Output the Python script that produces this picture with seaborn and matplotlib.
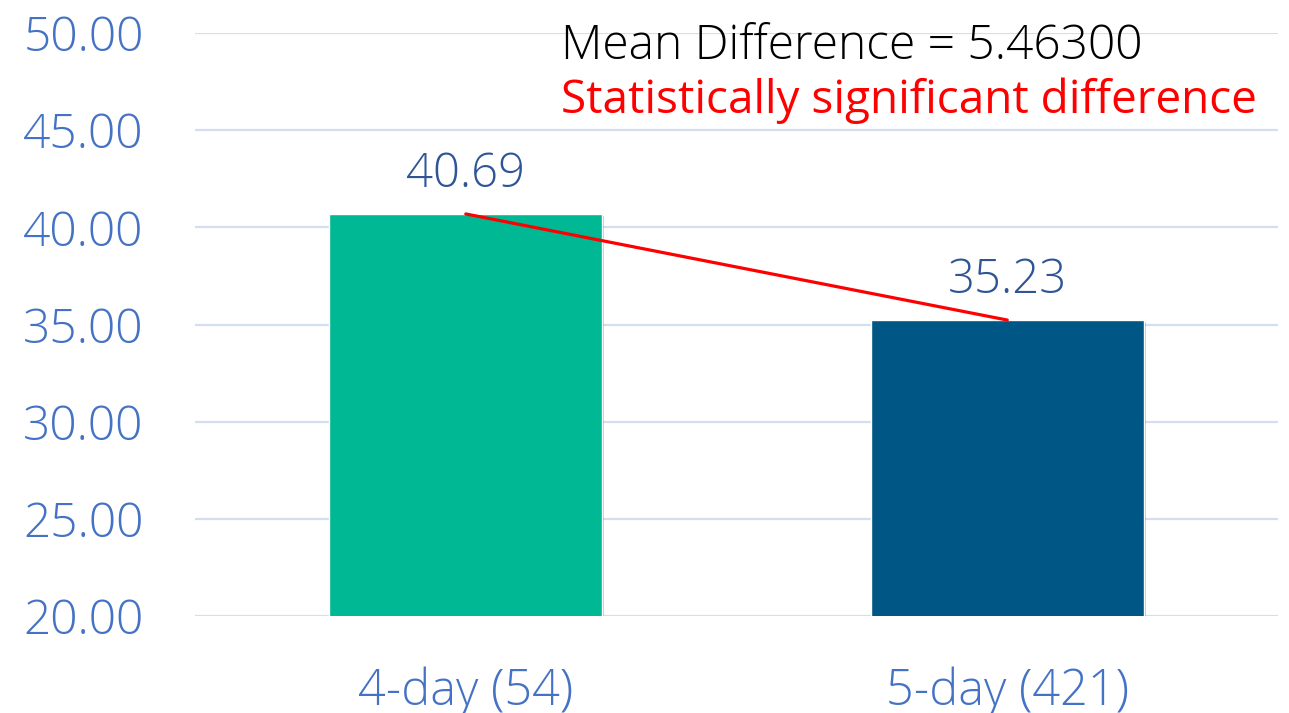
import matplotlib
matplotlib.use("Agg")
import matplotlib.pyplot as plt
import matplotlib.patheffects as pe
import seaborn as sns
import pandas as pd

# --- Data ---
groups = ["4-day (54)", "5-day (421)"]
means = [40.69, 35.23]
bar_colors = ["#00B894", "#005785"]
y_ticks = [20, 25, 30, 35, 40, 45, 50]
mean_diff_text = "Mean Difference = 5.46300"
signif_text = "Statistically significant difference"

df = pd.DataFrame({"group": groups, "mean": means})

sns.set_theme(style="white")
plt.rcParams["font.family"] = ["Open Sans", "DejaVu Sans"]

fig = plt.figure(figsize=(12.89, 7.13), dpi=100)
ax = fig.add_axes([0.1513, 0.136, 0.8402, 0.8177])

sns.barplot(data=df, x="group", y="mean", hue="group", palette=bar_colors,
            width=0.504, saturation=1, legend=False, ax=ax, zorder=3)

for p in ax.patches:
    p.set_path_effects([pe.SimplePatchShadow(offset=(1.5, -1.5), alpha=0.25), pe.Normal()])

# labels above the bars
for c in ax.containers:
    ax.bar_label(c, labels=[f"{v:.2f}" for v in c.datavalues], padding=11,
                 fontsize=34, color="#2F5597", fontweight="light")

# red line joining the bar tops
ax.plot(range(len(groups)), means, color="#FF0000", lw=2.3, zorder=4)

ax.set_ylim(20, 50)
ax.set_xlim(-0.5, 1.5)
ax.set_yticks(y_ticks)
ax.set_yticklabels([f"{v:.2f}" for v in y_ticks])
ax.yaxis.grid(True, color="#D3DEF3", lw=1.6, zorder=0)
ax.set_axisbelow(True)
ax.tick_params(axis="y", length=0, pad=37, labelsize=34.5, labelcolor="#4472C4")
ax.tick_params(axis="x", length=0, pad=36, labelsize=35, labelcolor="#4472C4")
for lbl in ax.get_xticklabels() + ax.get_yticklabels():
    lbl.set_fontweight("light")
ax.set_xlabel("")
ax.set_ylabel("")
sns.despine(ax=ax, left=True, bottom=True)

fig.text(0.435, 0.917, mean_diff_text, fontsize=34.5, color="black",
         va="baseline", ha="left", fontweight="light")
fig.text(0.435, 0.8415, signif_text, fontsize=33, color="#FF0000",
         va="baseline", ha="left")

fig.savefig("out.png", dpi=100)
